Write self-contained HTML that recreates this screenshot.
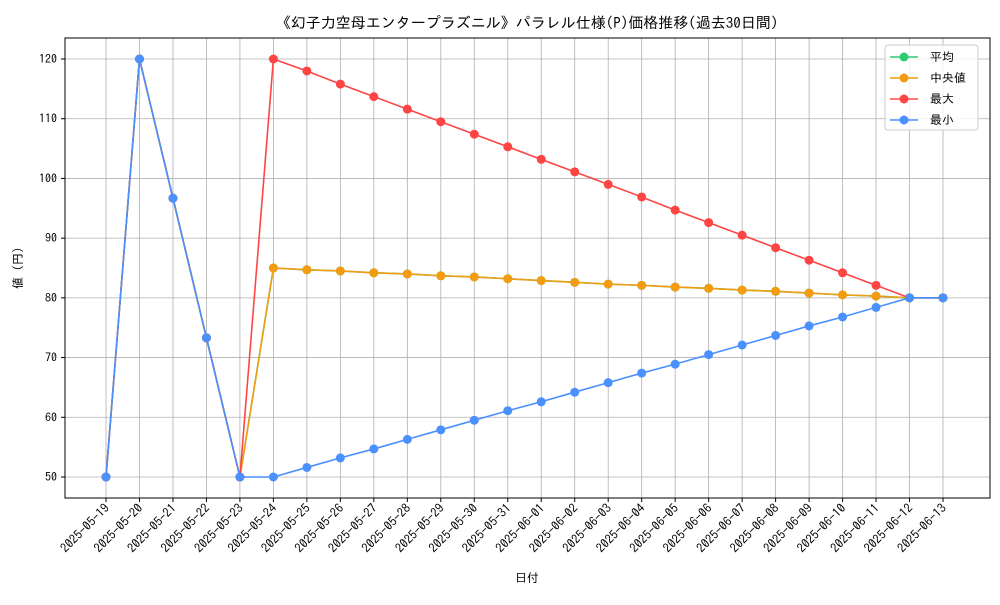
<!DOCTYPE html>
<html><head><meta charset="utf-8"><style>
body{margin:0;background:#fff;}
svg text{font-family:"IPAGothic","Liberation Sans","Noto Sans CJK JP",sans-serif;fill:#000;}
</style></head><body>
<svg id="chart" width="1000" height="600" xmlns="http://www.w3.org/2000/svg">
<rect width="1000" height="600" fill="#fff"/>
<text x="527" y="28" font-size="15" text-anchor="middle">《幻子力空母エンタープラズニル》パラレル仕様(P)価格推移(過去30日間)</text>
<g id="grid"></g>
<g id="xticks"></g>
<g id="yticks"></g>
<g id="series"></g>
<rect x="65" y="38" width="925" height="460" fill="none" stroke="#000" stroke-width="1"/>
<text x="527" y="582" font-size="12" text-anchor="middle">日付</text>
<text x="22" y="268" font-size="12" text-anchor="middle" transform="rotate(-90 22 268)">値 (円)</text>
<g id="legend"></g>
</svg>
<script>
const dates=["2025-05-19","2025-05-20","2025-05-21","2025-05-22","2025-05-23","2025-05-24","2025-05-25","2025-05-26","2025-05-27","2025-05-28","2025-05-29","2025-05-30","2025-05-31","2025-06-01","2025-06-02","2025-06-03","2025-06-04","2025-06-05","2025-06-06","2025-06-07","2025-06-08","2025-06-09","2025-06-10","2025-06-11","2025-06-12","2025-06-13"];
const meanVals=[50,120,96.7,73.3,50,85,84.7,84.5,84.2,84.0,83.7,83.5,83.2,82.9,82.6,82.3,82.1,81.8,81.6,81.3,81.1,80.8,80.5,80.3,80,80];
const medianVals=[50,120,96.7,73.3,50,85,84.7,84.5,84.2,84.0,83.7,83.5,83.2,82.9,82.6,82.3,82.1,81.8,81.6,81.3,81.1,80.8,80.5,80.3,80,80];
const maxVals=[50,120,96.7,73.3,50,120,118,115.8,113.7,111.6,109.5,107.4,105.3,103.2,101.1,99,96.9,94.7,92.6,90.5,88.4,86.3,84.2,82.1,80,80];
const minVals=[50,120,96.7,73.3,50,50,51.6,53.2,54.7,56.3,57.9,59.5,61.1,62.6,64.2,65.8,67.4,68.9,70.5,72.1,73.7,75.3,76.8,78.4,80,80];
const yTicks=[50,60,70,80,90,100,110,120];
const seriesNames=["平均","中央値","最大","最小"];
const NS="http://www.w3.org/2000/svg";
const xs=i=>106+i*(943-106)/(dates.length-1);
const ys=v=>477-(v-50)*(477-59)/70;
function mk(t,a,p){const e=document.createElementNS(NS,t);for(const k in a)e.setAttribute(k,a[k]);p.appendChild(e);return e;}
const grid=document.getElementById('grid'),xt=document.getElementById('xticks'),yt=document.getElementById('yticks');
dates.forEach((d,i)=>{
 const x=xs(i);
 const g=mk('line',{x1:x,x2:x,y1:38,y2:498,stroke:'#b0b0b0','stroke-width':0.8},grid);
 
 
 mk('line',{x1:x,x2:x,y1:498,y2:502,stroke:'#000'},xt);
 const t=mk('text',{x:x+4,y:509,'font-size':12.5,'text-anchor':'end',transform:`rotate(-45 ${x+4} 509)`},xt);
 t.textContent=d;
 
 
});
yTicks.forEach(v=>{
 const y=ys(v);
 const g=mk('line',{x1:65,x2:990,y1:y,y2:y,stroke:'#b0b0b0','stroke-width':0.8},grid);
 
 
 mk('line',{x1:61,x2:65,y1:y,y2:y,stroke:'#000'},yt);
 const t=mk('text',{x:57,y:y+4,'font-size':12,'text-anchor':'end'},yt);
 t.textContent=v;
 
 
});
const ser=document.getElementById('series');
const cols=['#2ecc71','#f39c12','#ff4444','#4a90ff'];
[meanVals,medianVals,maxVals,minVals].forEach((vals,k)=>{
 const g=mk('g',{},ser);
 
 
 mk('polyline',{points:vals.map((v,i)=>xs(i)+','+ys(v)).join(' '),fill:'none',stroke:cols[k],'stroke-width':1.6},g);
 vals.forEach((v,i)=>{
  const c=mk('circle',{cx:xs(i),cy:ys(v),r:4.5,fill:cols[k]},g);
  
  
 });
});
const lg=document.getElementById('legend');
mk('rect',{x:885,y:45,width:93,height:85,rx:3,fill:'#fff','fill-opacity':0.8,stroke:'#ccc'},lg);
seriesNames.forEach((n,k)=>{
 const y=57+k*21;
 const e=mk('g',{},lg);
 
 
 mk('line',{x1:890,x2:918,y1:y,y2:y,stroke:cols[k],'stroke-width':1.6},e);
 mk('circle',{cx:904,cy:y,r:4.5,fill:cols[k]},e);
 const t=mk('text',{x:930,y:y+4,'font-size':12},e);
 t.textContent=(k==1?' ':'')+n;
});
</script>
</body></html>
